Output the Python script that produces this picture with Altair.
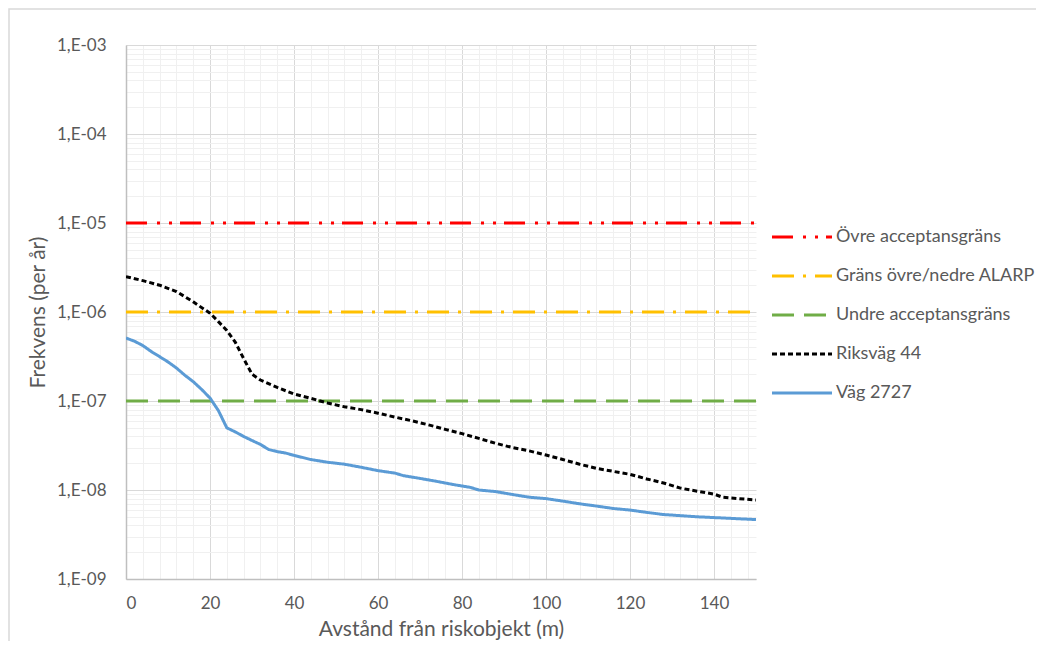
import altair as alt
import pandas as pd

# ---- data ----
series_names = ["Övre acceptansgräns", "Gräns övre/nedre ALARP", "Undre acceptansgräns",
                "Riksväg 44", "Väg 2727"]
series_colors = ["#FF0000", "#FFC000", "#70AD47", "#000000", "#5B9BD5"]
series_dashes = [[21, 10, 3, 9, 3, 8], [22, 9, 3, 9], [22, 10], [5, 3], [1, 0]]

limit_x = [0, 150]
ovre_value = 1e-5
alarp_value = 1e-6
undre_value = 1e-7

riksvag_x = [0, 4, 8, 12, 16, 20, 22, 24, 26, 28, 30, 32, 36, 40, 44, 48, 52, 56, 60, 64,
             68, 72, 76, 80, 84, 88, 92, 96, 100, 104, 108, 112, 116, 120, 124, 128, 132,
             136, 140, 142, 146, 150]
riksvag_y = [2.5e-6, 2.25e-6, 2.0e-6, 1.7e-6, 1.3e-6, 9.7e-7, 7.8e-7, 6.2e-7, 4.6e-7, 3.0e-7,
             2.0e-7, 1.72e-7, 1.42e-7, 1.2e-7, 1.07e-7, 9.5e-8, 8.6e-8, 8.0e-8, 7.3e-8, 6.6e-8,
             6.0e-8, 5.4e-8, 4.8e-8, 4.3e-8, 3.8e-8, 3.35e-8, 3.0e-8, 2.75e-8, 2.47e-8, 2.2e-8,
             1.95e-8, 1.75e-8, 1.62e-8, 1.5e-8, 1.33e-8, 1.2e-8, 1.05e-8, 9.7e-9, 9.0e-9,
             8.3e-9, 8.0e-9, 7.7e-9]

vag_x = [0, 2, 4, 6, 8, 10, 12, 14, 16, 18, 20, 22, 24, 26, 28, 30, 32, 34, 36, 38, 40, 44,
         48, 52, 56, 60, 64, 66, 70, 74, 78, 82, 84, 88, 92, 96, 100, 104, 108, 112, 116, 120,
         124, 128, 132, 136, 140, 144, 150]
vag_y = [5.1e-7, 4.7e-7, 4.2e-7, 3.6e-7, 3.15e-7, 2.75e-7, 2.35e-7, 1.95e-7, 1.65e-7, 1.35e-7,
         1.08e-7, 7.8e-8, 5.0e-8, 4.5e-8, 4.0e-8, 3.6e-8, 3.25e-8, 2.85e-8, 2.7e-8, 2.6e-8,
         2.45e-8, 2.2e-8, 2.05e-8, 1.95e-8, 1.8e-8, 1.65e-8, 1.55e-8, 1.45e-8, 1.35e-8, 1.25e-8,
         1.15e-8, 1.07e-8, 1.0e-8, 9.6e-9, 8.9e-9, 8.3e-9, 8.0e-9, 7.5e-9, 7.0e-9, 6.6e-9,
         6.2e-9, 5.95e-9, 5.6e-9, 5.3e-9, 5.15e-9, 5.0e-9, 4.9e-9, 4.8e-9, 4.65e-9]

x_ticks = [0, 20, 40, 60, 80, 100, 120, 140]
x_minor = [v for v in range(4, 150, 4) if v % 20]
y_ticks = [1e-9, 1e-8, 1e-7, 1e-6, 1e-5, 1e-4, 1e-3]
y_minor = [m * 10.0 ** e for e in range(-9, -3) for m in range(2, 10)]

# ---- table ----
rows = []
for name, val in zip(series_names[:3], [ovre_value, alarp_value, undre_value]):
    for xv in limit_x:
        rows.append({"series": name, "x": xv, "y": val})
for xv, yv in zip(riksvag_x, riksvag_y):
    rows.append({"series": series_names[3], "x": xv, "y": yv})
for xv, yv in zip(vag_x, vag_y):
    rows.append({"series": series_names[4], "x": xv, "y": yv})
df = pd.DataFrame(rows)

TEXT = "#595959"
FONT = "Lato"

x_scale = alt.Scale(domain=[0, 150], nice=False, zero=False)
y_scale = alt.Scale(type="log", domain=[1e-9, 1e-3], nice=False)

# minor gridlines (separate axes, grid only)
minor = alt.Chart(df).mark_line(opacity=0).encode(
    x=alt.X("x:Q", scale=x_scale, axis=alt.Axis(
        orient="top", values=x_minor, labels=False, ticks=False, domain=False,
        title=None, grid=True, gridColor="#F0F0F0", gridWidth=1)),
    y=alt.Y("y:Q", scale=y_scale, axis=alt.Axis(
        orient="right", values=y_minor, labels=False, ticks=False, domain=False,
        title=None, grid=True, gridColor="#F0F0F0", gridWidth=1)),
    detail="series:N",
)

lines = alt.Chart(df).mark_line(strokeWidth=3, clip=True).encode(
    x=alt.X("x:Q", scale=x_scale, axis=alt.Axis(
        orient="bottom", values=x_ticks, title="Avstånd från riskobjekt (m)",
        grid=True, gridColor="#D9D9D9", gridWidth=1, ticks=False,
        domainColor="#BFBFBF", domainWidth=1.5,
        labelFont=FONT, labelFontSize=17, labelColor=TEXT, labelPadding=16,
        titleFont=FONT, titleFontSize=21, titleColor=TEXT, titleFontWeight="normal",
        titlePadding=7)),
    y=alt.Y("y:Q", scale=y_scale, axis=alt.Axis(
        orient="left", values=y_ticks, title="Frekvens (per år)",
        labelExpr="'1,E-0' + format(-log(datum.value) / LN10, '.0f')",
        grid=True, gridColor="#D9D9D9", gridWidth=1, ticks=False,
        domainColor="#BFBFBF", domainWidth=1.5,
        labelFont=FONT, labelFontSize=17, labelColor=TEXT, labelPadding=20,
        titleFont=FONT, titleFontSize=21, titleColor=TEXT, titleFontWeight="normal",
        titlePadding=8)),
    color=alt.Color("series:N", title=None,
                    scale=alt.Scale(domain=series_names, range=series_colors)),
    strokeDash=alt.StrokeDash("series:N", title=None,
                              scale=alt.Scale(domain=series_names, range=series_dashes)),
    order=alt.Order("x:Q"),
)

frame = alt.Chart(pd.DataFrame({"k": [0]})).mark_rect(
    fill="transparent", stroke="#D9D9D9", strokeWidth=1.5, clip=False
).encode(x=alt.value(-117), x2=alt.value(940), y=alt.value(-36), y2=alt.value(640))

chart = alt.layer(minor, lines, frame).resolve_axis(
    x="independent", y="independent"
).properties(
    width=630, height=534,
    padding={"left": 118, "top": 37, "right": 280, "bottom": 62},
    autosize=alt.AutoSizeParams(type="none"),
).configure_view(stroke=None).configure_legend(
    orient="none", legendX=667, legendY=183, padding=0,
    symbolType="M-6,0H6", symbolSize=100, symbolStrokeWidth=3,
    labelFont=FONT, labelFontSize=18, labelColor=TEXT, labelOffset=25,
    labelLimit=400, rowPadding=21,
)

chart.save("out.html", embed_options={"renderer": "svg", "actions": False})
